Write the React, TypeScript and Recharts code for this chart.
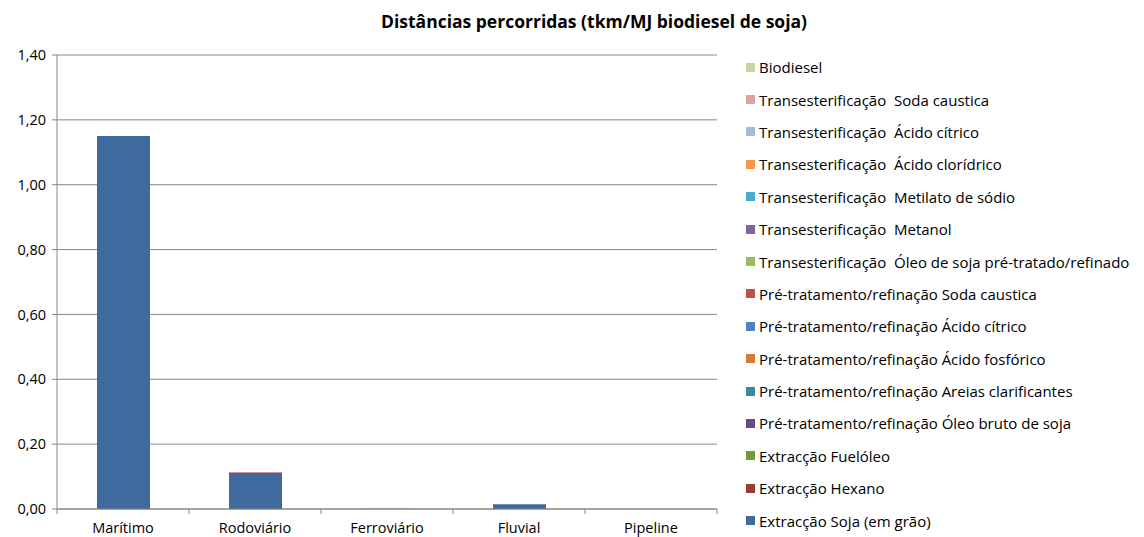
import { BarChart, Bar, XAxis, YAxis, CartesianGrid } from 'recharts';

const categories = ['Marítimo', 'Rodoviário', 'Ferroviário', 'Fluvial', 'Pipeline'];

// stacking order: bottom first
const seriesNames = [
    'Extracção Soja (em grão)',
    'Extracção Hexano',
    'Extracção Fuelóleo',
    'Pré-tratamento/refinação Óleo bruto de soja',
    'Pré-tratamento/refinação Areias clarificantes',
    'Pré-tratamento/refinação Ácido fosfórico',
    'Pré-tratamento/refinação Ácido cítrico',
    'Pré-tratamento/refinação Soda caustica',
    'Transesterificação  Óleo de soja pré-tratado/refinado',
    'Transesterificação  Metanol',
    'Transesterificação  Metilato de sódio',
    'Transesterificação  Ácido clorídrico',
    'Transesterificação  Ácido cítrico',
    'Transesterificação  Soda caustica',
    'Biodiesel',
];

const seriesColors = [
    '#3F6A9E', '#9B3B39', '#7A9540', '#654C85', '#358D9F',
    '#D27C37', '#4F81BD', '#C0504D', '#9BBB59', '#8064A2',
    '#4BACC6', '#F79646', '#A7B9DA', '#DBA3A2', '#C4D7A4',
];

const extrSoja = [1.15, 0.111, 0.001, 0.015, 0];
const extrHexano = [0, 0.001, 0, 0, 0];
const extrFueloleo = [0, 0, 0, 0, 0];
const preOleoBruto = [0, 0, 0, 0, 0];
const preAreias = [0, 0, 0, 0, 0];
const preFosforico = [0, 0, 0, 0, 0];
const preCitrico = [0, 0, 0, 0, 0];
const preSoda = [0, 0.001, 0, 0, 0];
const transOleo = [0, 0, 0, 0, 0];
const transMetanol = [0, 0, 0, 0, 0];
const transMetilato = [0, 0, 0, 0, 0];
const transCloridrico = [0, 0, 0, 0, 0];
const transCitrico = [0, 0, 0, 0, 0];
const transSoda = [0, 0.001, 0, 0, 0];
const biodiesel = [0, 0, 0, 0, 0];

const seriesValues = [
    extrSoja, extrHexano, extrFueloleo, preOleoBruto, preAreias,
    preFosforico, preCitrico, preSoda, transOleo, transMetanol,
    transMetilato, transCloridrico, transCitrico, transSoda, biodiesel,
];

const yTicks = [0, 0.2, 0.4, 0.6, 0.8, 1.0, 1.2, 1.4];

const data = categories.map((name, i) => {
    const row: any = { name };
    seriesNames.forEach((s, j) => { row['s' + j] = seriesValues[j][i]; });
    return row;
});

const FONT = '"Open Sans", "Noto Sans", sans-serif';

function renderTick(props: any) {
    const { x, y, payload, index } = props;
    const half = payload.offset || 0;
    return (
        <g>
            <line x1={x - half} x2={x - half} y1={y - 8} y2={y - 3} stroke="#868686" />
            {index === categories.length - 1 &&
                <line x1={x + half} x2={x + half} y1={y - 8} y2={y - 3} stroke="#868686" />}
            <text x={x} y={y + 16} textAnchor="middle" fill="#000" fontSize={14.5} fontFamily={FONT}>
                {payload.value}
            </text>
        </g>
    );
}

function ChartLegend() {
    const items = seriesNames.map((n, i) => ({ n, c: seriesColors[i] })).reverse();
    return (
        <div style={{ position: 'absolute', left: 746, top: 51, fontFamily: FONT, fontSize: 15, color: '#000' }}>
            {items.map((it) => (
                <div key={it.n} style={{ height: 32.4, display: 'flex', alignItems: 'center', whiteSpace: 'pre' }}>
                    <span style={{ width: 9, height: 9, background: it.c, display: 'inline-block', marginRight: 4 }} />
                    <span>{it.n}</span>
                </div>
            ))}
        </div>
    );
}

export default function App() {
    return (
        <div style={{ position: 'absolute', left: 0, top: 0, width: 1144, height: 537, background: '#fff' }}>
            <div style={{
                position: 'absolute', left: 0, width: 1188, top: 9, textAlign: 'center',
                fontFamily: FONT, fontWeight: 'bold', fontSize: 17.5,
            }}>
                Distâncias percorridas (tkm/MJ biodiesel de soja)
            </div>
            <BarChart width={1144} height={537} data={data}
                margin={{ top: 55, right: 427, bottom: 0, left: 0 }} barSize={53}>
                <CartesianGrid vertical={false} stroke="#868686" />
                <XAxis dataKey="name" height={28} tickLine={false} axisLine={{ stroke: '#868686' }}
                    tick={renderTick} interval={0} />
                <YAxis width={57} domain={[0, 1.4]} ticks={yTicks} tickSize={5}
                    tickLine={{ stroke: '#868686' }} axisLine={{ stroke: '#868686' }}
                    tickFormatter={(v: number) => v.toFixed(2).replace('.', ',')}
                    tick={{ fill: '#000', fontSize: 14.5, fontFamily: FONT, dx: -4 }} />
                {seriesNames.map((s, j) => (
                    <Bar key={s} dataKey={'s' + j} name={s} stackId="a" fill={seriesColors[j]} isAnimationActive={false} />
                ))}
            </BarChart>
            <ChartLegend />
        </div>
    );
}
